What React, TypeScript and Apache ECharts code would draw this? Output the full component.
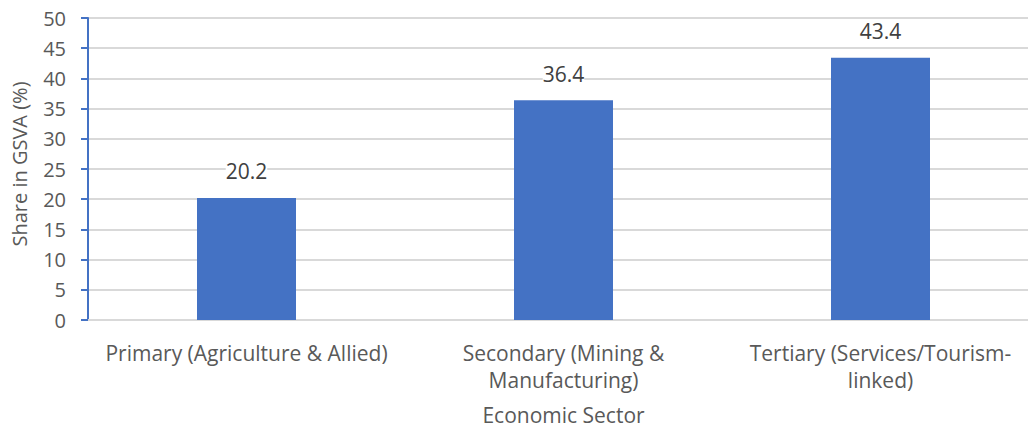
import React, { useEffect, useRef } from "react";
import * as echarts from "echarts";

const categories = [
  "Primary (Agriculture & Allied)",
  "Secondary (Mining &\nManufacturing)",
  "Tertiary (Services/Tourism-\nlinked)",
];
const shares = [20.2, 36.4, 43.4];
const yTicks = { min: 0, max: 50, interval: 5 };
const xAxisTitle = "Economic Sector";
const yAxisTitle = "Share in GSVA (%)";

const FONT = "'Open Sans', 'Noto Sans', sans-serif";

export default function App() {
  const ref = useRef<HTMLDivElement>(null);
  useEffect(() => {
    if (!ref.current) return;
    const chart = echarts.init(ref.current, undefined, { renderer: "svg" });
    chart.setOption({
      animation: false,
      backgroundColor: "#ffffff",
      grid: { left: 88, top: 18, right: 1, bottom: 110, containLabel: false },
      xAxis: {
        type: "category",
        data: categories,
        name: xAxisTitle,
        nameLocation: "middle",
        nameGap: 84,
        nameTextStyle: { color: "#595959", fontSize: 21, fontFamily: FONT },
        axisLine: { show: true, lineStyle: { color: "#d9d9d9", width: 2 } },
        axisTick: { show: false },
        axisLabel: {
          color: "#595959",
          fontSize: 21,
          fontFamily: FONT,
          margin: 19,
          lineHeight: 27,
          interval: 0,
        },
      },
      yAxis: {
        type: "value",
        min: yTicks.min,
        max: yTicks.max,
        interval: yTicks.interval,
        name: yAxisTitle,
        nameLocation: "middle",
        nameGap: 59,
        nameTextStyle: { color: "#595959", fontSize: 20, fontFamily: FONT, padding: [0, 0, 0, 10] },
        axisLine: { show: true, lineStyle: { color: "#4472c4", width: 2 } },
        axisTick: { show: true, length: 7, lineStyle: { color: "#4472c4", width: 2 } },
        axisLabel: { color: "#595959", fontSize: 20, fontFamily: FONT, margin: 22 },
        splitLine: { show: true, lineStyle: { color: "#d9d9d9", width: 2 } },
      },
      series: [
        {
          type: "bar",
          data: shares,
          barWidth: 99,
          itemStyle: { color: "#4472c4" },
          label: {
            show: true,
            position: "top",
            distance: 16,
            color: "#404040",
            fontSize: 21,
            fontFamily: FONT,
            backgroundColor: "#ffffff",
          },
        },
      ],
    });
    return () => chart.dispose();
  }, []);
  return (
    <div
      ref={ref}
      style={{ position: "fixed", left: 0, top: 0, width: 1040, height: 430 }}
    />
  );
}
